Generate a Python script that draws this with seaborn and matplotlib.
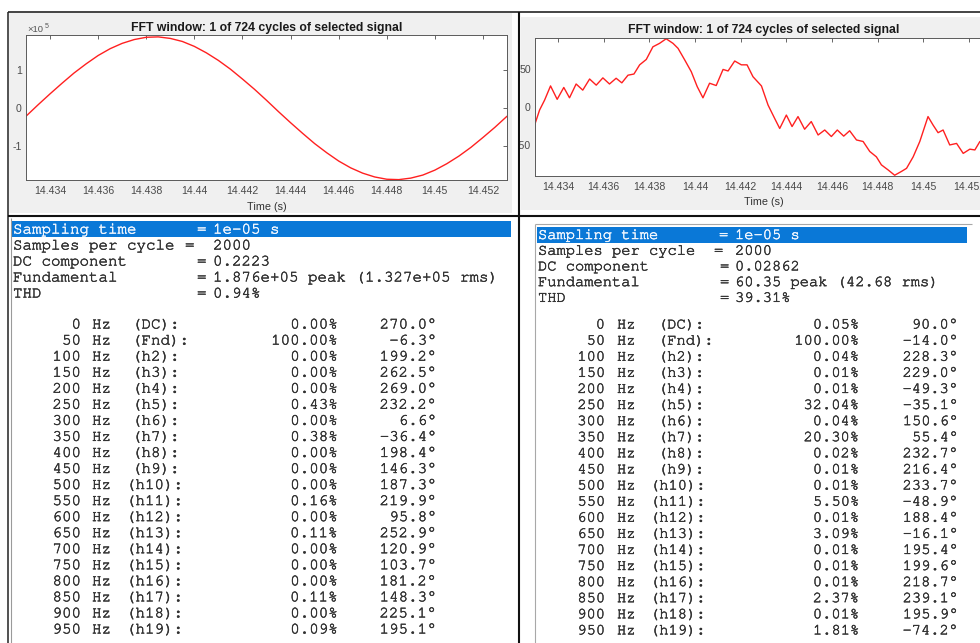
import matplotlib
matplotlib.use("Agg")
import matplotlib.pyplot as plt
from matplotlib import font_manager
from matplotlib import patheffects
from matplotlib.patches import Rectangle
from matplotlib.lines import Line2D
import seaborn as sns

# ---------------- data ----------------
window_start = 14.433  # s, first sample of the one-cycle FFT window
window_len = 0.020     # s, one 50 Hz cycle
xtick_vals = [14.434, 14.436, 14.438, 14.440, 14.442, 14.444, 14.446, 14.448, 14.450, 14.452]
xtick_text = ["14.434", "14.436", "14.438", "14.44", "14.442", "14.444",
              "14.446", "14.448", "14.45", "14.452"]
plot_title = "FFT window: 1 of 724 cycles of selected signal"

# left signal, in units of 1e5
left_t_ms = [0.0, 0.5, 1.0, 1.5, 2.0, 2.5, 3.0, 3.5, 4.0, 4.5, 5.0, 5.5, 6.0, 6.5, 7.0,
             7.5, 8.0, 8.5, 9.0, 9.5, 10.0, 10.5, 11.0, 11.5, 12.0, 12.5, 13.0, 13.5,
             14.0, 14.5, 15.0, 15.5, 16.0, 16.5, 17.0, 17.5, 18.0, 18.5, 19.0, 19.5, 20.0]
left_v = [-0.21, 0.09, 0.38, 0.66, 0.93, 1.17, 1.39, 1.57, 1.71, 1.81, 1.87, 1.88, 1.84,
          1.76, 1.63, 1.46, 1.26, 1.03, 0.77, 0.50, 0.21, -0.09, -0.38, -0.66, -0.93,
          -1.17, -1.39, -1.57, -1.71, -1.81, -1.87, -1.88, -1.84, -1.76, -1.63, -1.46,
          -1.26, -1.03, -0.77, -0.50, -0.21]

# right signal
right_t_ms = [0.00, 0.20, 0.42, 0.68, 0.97, 1.26, 1.51, 1.80, 2.09, 2.39, 2.68, 2.97,
              3.26, 3.55, 3.80, 4.07, 4.33, 4.58, 4.87, 5.16, 5.45, 5.74, 6.04, 6.26,
              6.55, 6.84, 7.10, 7.35, 7.64, 7.93, 8.23, 8.45, 8.74, 9.03, 9.28, 9.54,
              9.91, 10.20, 10.49, 10.71, 11.00, 11.25, 11.51, 11.80, 12.09, 12.39,
              12.68, 12.97, 13.23, 13.51, 13.77, 14.07, 14.36, 14.65, 14.94, 15.16,
              15.45, 15.74, 16.04, 16.26, 16.55, 16.84, 17.20, 17.42, 17.64, 17.86,
              18.15, 18.45, 18.74, 19.03, 19.25, 19.47]
right_v = [-22.0, -4.0, 9.0, 27.5, 10.0, 25.5, 12.0, 30.0, 22.0, 36.5, 28.5, 38.0,
           30.0, 37.5, 31.5, 41.5, 43.0, 55.0, 62.0, 78.5, 83.0, 89.0, 83.0, 76.5,
           61.5, 46.0, 26.5, 12.0, 31.0, 28.0, 49.0, 47.0, 60.0, 55.0, 55.0, 39.5,
           27.5, 2.5, -15.0, -28.0, -10.5, -25.5, -12.5, -29.0, -19.0, -36.5,
           -30.0, -38.5, -30.0, -38.0, -31.0, -43.0, -45.0, -58.0, -65.0, -75.5,
           -82.0, -89.0, -84.0, -80.0, -65.0, -45.0, -12.5, -23.5, -33.5, -30.0,
           -49.5, -47.5, -60.5, -55.0, -56.0, -45.0]

# harmonic table
freqs = [0, 50, 100, 150, 200, 250, 300, 350, 400, 450,
         500, 550, 600, 650, 700, 750, 800, 850, 900, 950]
orders = ["(DC):", "(Fnd):", "(h2):", "(h3):", "(h4):", "(h5):", "(h6):", "(h7):",
          "(h8):", "(h9):", "(h10):", "(h11):", "(h12):", "(h13):", "(h14):",
          "(h15):", "(h16):", "(h17):", "(h18):", "(h19):"]
left_mag = [0.00, 100.00, 0.00, 0.00, 0.00, 0.43, 0.00, 0.38, 0.00, 0.00,
            0.00, 0.16, 0.00, 0.11, 0.00, 0.00, 0.00, 0.11, 0.00, 0.09]
left_phase = [270.0, -6.3, 199.2, 262.5, 269.0, 232.2, 6.6, -36.4, 198.4, 146.3,
              187.3, 219.9, 95.8, 252.9, 120.9, 103.7, 181.2, 148.3, 225.1, 195.1]
right_mag = [0.05, 100.00, 0.04, 0.01, 0.01, 32.04, 0.04, 20.30, 0.02, 0.01,
             0.01, 5.50, 0.01, 3.09, 0.01, 0.01, 0.01, 2.37, 0.01, 1.81]
right_phase = [90.0, -14.0, 228.3, 229.0, -49.3, -35.1, 150.6, 55.4, 232.7, 216.4,
               233.7, -48.9, 188.4, -16.1, 195.4, 199.6, 218.7, 239.1, 195.9, -74.2]

header_keys = ["Sampling time", "Samples per cycle", "DC component", "Fundamental", "THD"]
left_header_vals = ["1e-05 s", "2000", "0.2223", "1.876e+05 peak (1.327e+05 rms)", "0.94%"]
right_header_vals = ["1e-05 s", "2000", "0.02862", "60.35 peak (42.68 rms)", "39.31%"]

# ---------------- figure ----------------
sns.set_theme(style="white")
plt.rcParams["font.family"] = ["Liberation Sans", "DejaVu Sans"]

# prefer a Courier-style face for the listing, fall back to Liberation Mono
mono_face = "Liberation Mono"
for cand in ["Courier New", "Nimbus Mono PS", "FreeMono", "Courier"]:
    try:
        font_manager.findfont(font_manager.FontProperties(family=cand),
                              fallback_to_default=False)
        mono_face = cand
        break
    except Exception:
        pass
mono = [mono_face, "DejaVu Sans Mono"]
courier_like = mono_face != "Liberation Mono"
size_l = 11.4 if courier_like else 11.0
size_r = 11.1 if courier_like else 10.8
thick = 0.35 if courier_like else 0.1

W, H = 980, 643
fig = plt.figure(figsize=(W / 100, H / 100), dpi=100)
fig.patch.set_facecolor("white")


def fx(px):
    return px / W


def fy(py):
    return 1 - py / H


def frect(x0, y0, x1, y1, color, z):
    fig.add_artist(Rectangle((fx(x0), fy(y1)), (x1 - x0) / W, (y1 - y0) / H,
                             transform=fig.transFigure, facecolor=color,
                             edgecolor="none", zorder=z))


def fline(x0, y0, x1, y1, color, lw, z=6):
    fig.add_artist(Line2D([fx(x0), fx(x1)], [fy(y0), fy(y1)], transform=fig.transFigure,
                          color=color, linewidth=lw, zorder=z, solid_capstyle="butt"))


# gray scope panels
frect(9, 13, 512, 213, "#f0f0f0", -5)
frect(521, 17, 980, 210, "#f0f0f0", -5)

axL = fig.add_axes([fx(26), fy(180), 481 / W, 145 / H])
axR = fig.add_axes([fx(535), fy(176), 457 / W, 138 / H])

sns.lineplot(x=[window_start + t / 1000 for t in left_t_ms], y=left_v, ax=axL,
             color="#ff2020", linewidth=1.0, sort=False)
sns.lineplot(x=[window_start + t / 1000 for t in right_t_ms], y=right_v, ax=axR,
             color="#ff2020", linewidth=1.0, sort=False)


def style_axes(ax, yticks, ylabels, ylim, title_pad, label_y):
    ax.set_facecolor("white")
    ax.set_xlim(window_start, window_start + window_len)
    ax.set_ylim(*ylim)
    ax.set_xticks(xtick_vals, labels=xtick_text)
    ax.set_yticks(yticks, labels=ylabels)
    ax.tick_params(direction="in", length=3.2, width=0.6, color="#4d4d4d",
                   top=True, right=True, labelsize=7.6, labelcolor="#4a4a4a")
    ax.tick_params(axis="x", pad=4.3)
    ax.tick_params(axis="y", pad=3.0)
    for s in ax.spines.values():
        s.set_visible(True)
        s.set_color("#5a5a5a")
        s.set_linewidth(0.7)
    ax.set_title(plot_title, fontsize=8.8, fontweight="bold", pad=title_pad, color="#1a1a1a")
    ax.set_xlabel("Time (s)", fontsize=7.8, color="#333333")
    ax.set_ylabel("")
    ax.xaxis.set_label_coords(0.5, label_y)
    ax.xaxis.label.set_va("center")


style_axes(axL, [-1, 0, 1], ["-1", "0", "1"], (-1.89, 1.93), 3.0, -27 / 145)
style_axes(axR, [-50, 0, 50], ["-50", "0", "50"], (-90, 90), 3.6, -26 / 138)

# exponent marker of the left scope
fig.text(fx(27), fy(30), "\u00d710", fontsize=6.8, color="#555555", ha="left", va="center")
fig.text(fx(44.5), fy(26.5), "5", fontsize=5.0, color="#555555", ha="left", va="center")

# strip that hides the right scope's tick labels under the separator
frect(512, 13, 519, 216, "white", 5)

# frame lines
fline(8, 12, 980, 12, "#111111", 1.1)
fline(8, 12, 8, 643, "#222222", 1.1)
fline(519, 12, 519, 643, "#111111", 1.5)
fline(8, 216, 980, 216, "#111111", 1.5)

# list boxes
fline(10.5, 218, 10.5, 643, "#9a9a9a", 0.8)
fline(535, 224, 535, 643, "#a8a8a8", 0.8)
fline(535, 224, 972, 224, "#a8a8a8", 0.8)
frect(12, 221, 511, 237, "#0a78d7", 1)
frect(537, 227, 967, 243, "#0a78d7", 1)

ink = "#303030"


def mtext(x, y, s, size, color, ha):
    t = fig.text(fx(x), y, s, family=mono, fontsize=size, color=color, ha=ha, va="center")
    t.set_path_effects([patheffects.withStroke(linewidth=thick, foreground=color)])
    return t


def header(x_key, x_eq_list, x_val, y0, dy, vals, size):
    for i, (k, v) in enumerate(zip(header_keys, vals)):
        y = fy(y0 + dy * i)
        col = "#f4f8ff" if i == 0 else ink
        mtext(x_key, y, k, size, col, "left")
        mtext(x_eq_list[i], y, "=", size, col, "left")
        mtext(x_val, y, v, size, col, "left")


header(13, [197, 185, 197, 197, 197], 213, 230, 16.0, left_header_vals, size_l)
header(538, [719, 714, 720, 720, 720], 735, 235.5, 15.7, right_header_vals, size_r)


def table(x_freq, x_hz, x_ord, x_ord_wide, x_mag, x_ph, y0, dy, mags, phases, size):
    for i in range(len(freqs)):
        y = fy(y0 + dy * i)
        mtext(x_freq, y, str(freqs[i]), size, ink, "right")
        mtext(x_hz, y, "Hz", size, ink, "left")
        xo = x_ord_wide if len(orders[i]) > 5 and orders[i] != "(Fnd):" else x_ord
        mtext(xo, y, orders[i], size, ink, "left")
        mtext(x_mag, y, f"{mags[i]:.2f}%", size, ink, "right")
        mtext(x_ph, y, f"{phases[i]:.1f}\u00b0", size, ink, "right")


table(81, 92, 132, 126, 338, 437, 325, 16.05, left_mag, left_phase, size_l)
table(605, 617, 658, 650, 859, 958, 325, 16.1, right_mag, right_phase, size_r)

fig.savefig("out.png", dpi=100, facecolor="white")
